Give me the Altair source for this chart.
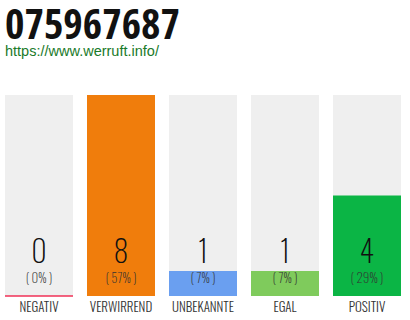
import altair as alt
import pandas as pd

# Vote tallies per rating category
categories = ["NEGATIV", "VERWIRREND", "UNBEKANNTE", "EGAL", "POSITIV"]
counts = [0, 8, 1, 1, 4]
colors = ["#f0234b", "#f07d0c", "#6a9ff0", "#7fcb5c", "#0bb545"]

total = sum(counts)
top = max(counts)
df = pd.DataFrame({
    "cat": categories,
    "count": counts,
    "top": [top] * len(categories),
    "pct": [f"( {round(c / total * 100)}% )" for c in counts],
    "color": colors,
})

font = "Oswald"

x = alt.X(
    "cat:N",
    sort=categories,
    scale=alt.Scale(paddingInner=14 / 82, paddingOuter=0),
    axis=alt.Axis(
        title=None, domain=False, ticks=False, labelAngle=0,
        labelFont=font, labelFontSize=13, labelFontWeight=300,
        labelColor="#333333", labelPadding=5, labelBaseline="top",
    ),
)
yscale = alt.Scale(domain=[0, top], nice=False)

base = alt.Chart(df)

background = base.mark_bar(color="#efefef").encode(
    x=x, y=alt.Y("top:Q", scale=yscale, axis=None)
)
bars = base.mark_bar().encode(
    x=x,
    y=alt.Y("count:Q", scale=yscale, axis=None),
    color=alt.Color("color:N", scale=None),
)
zero_line = base.transform_filter("datum.count == 0").mark_tick(
    orient="horizontal", thickness=2, size=68
).encode(
    x=x,
    y=alt.Y("count:Q", scale=yscale, axis=None),
    color=alt.Color("color:N", scale=None),
)
num_text = base.mark_text(
    font=font, fontSize=30, fontWeight=200, color="#111111",
    baseline="alphabetic", dy=-33,
).encode(x=x, y=alt.datum(0), text="count:Q")
pct_text = base.mark_text(
    font=font, fontSize=13, fontWeight=200, color="#333333",
    baseline="alphabetic", dy=-13,
).encode(x=x, y=alt.datum(0), text="pct:N")

chart = alt.layer(background, bars, zero_line, num_text, pct_text).properties(
    width=396,
    height=201,
    autosize=alt.AutoSizeParams(type="none"),
    padding={"left": 5, "top": 95, "right": 9, "bottom": 24},
    title=alt.TitleParams(
        text="075967687",
        subtitle="https://www.werruft.info/",
        anchor="start",
        font="Open Sans Condensed",
        fontSize=42,
        fontWeight="bold",
        color="#111111",
        subtitleFont="Liberation Sans",
        subtitleFontSize=14.5,
        subtitleColor="#1a7a2a",
        subtitlePadding=-3,
        offset=36,
    ),
).configure_view(stroke=None)

chart.save("out.html", embed_options={"renderer": "svg", "actions": False})
